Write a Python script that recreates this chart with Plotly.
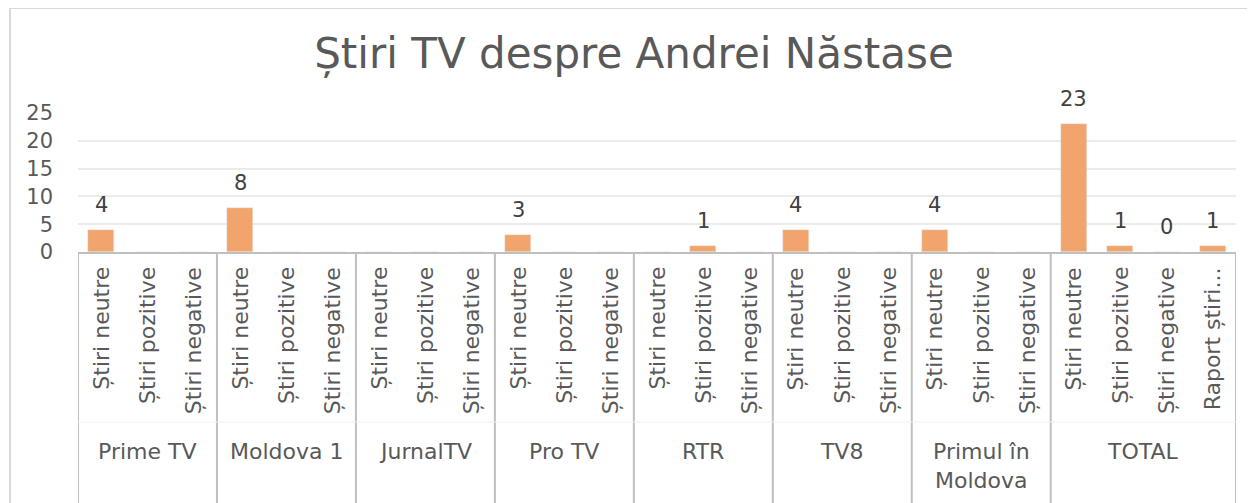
import plotly.graph_objects as go

# ---- data ----
groups = ["Prime TV", "Moldova 1", "JurnalTV", "Pro TV", "RTR", "TV8", "Primul în<br>Moldova", "TOTAL"]
subcats = [
    ["Știri neutre", "Știri pozitive", "Știri negative"],
    ["Știri neutre", "Știri pozitive", "Știri negative"],
    ["Știri neutre", "Știri pozitive", "Știri negative"],
    ["Știri neutre", "Știri pozitive", "Știri negative"],
    ["Știri neutre", "Știri pozitive", "Știri negative"],
    ["Știri neutre", "Știri pozitive", "Știri negative"],
    ["Știri neutre", "Știri pozitive", "Știri negative"],
    ["Știri neutre", "Știri pozitive", "Știri negative", "Raport știri..."],
]
values = [
    [4, None, None],
    [8, None, None],
    [None, None, None],
    [3, None, None],
    [None, 1, None],
    [4, None, None],
    [4, None, None],
    [23, 1, 0, 1],
]
title = "Știri TV despre Andrei Năstase"
y_ticks = [0, 5, 10, 15, 20, 25]

# ---- layout geometry (pixels, in screenshot coords; page body adds 8px offset) ----
OFF = 8
W, H = 1255, 503
L, R, T, B = 78 - OFF, 1236 - OFF, 113 - OFF, 252 - OFF
pw, ph = R - L, B - T
def px_x(p): return (p - OFF - L) / pw
def px_y(p): return (B - (p - OFF)) / ph

FONT = "Century Gothic, DejaVu Sans"
TXT = "#595959"
BAR = "#F1A46C"
AX = "#BFBFBF"

xs, ys, labels = [], [], []
i = 0
bounds = [-0.5]
for g, (subs, vals) in enumerate(zip(subcats, values)):
    for s, v in zip(subs, vals):
        xs.append(i); ys.append(v); labels.append(s)
        i += 1
    bounds.append(i - 0.5)
n = i

fig = go.Figure()
fig.add_trace(go.Bar(x=xs, y=[0 if v is None else v for v in ys], marker_color=BAR,
                     width=0.56, hoverinfo="skip"))

ann = []
# data labels
for x, v in zip(xs, ys):
    if v is not None:
        ann.append(dict(x=x, y=v, xref="x", yref="y", text=str(v), showarrow=False,
                        yanchor="middle", yshift=25, font=dict(family=FONT, size=21, color="#404040")))
# subcategory labels (rotated)
for x, s in zip(xs, labels):
    ann.append(dict(x=x, y=px_y(265), xref="x", yref="paper", text=s, showarrow=False,
                    textangle=-90, yanchor="top", xanchor="center",
                    font=dict(family=FONT, size=22, color=TXT)))
# group labels
for g, name in enumerate(groups):
    cx = (bounds[g] + bounds[g + 1]) / 2
    ann.append(dict(x=cx, y=px_y(437), xref="x", yref="paper", text=name, showarrow=False,
                    yanchor="top", xanchor="center",
                    font=dict(family=FONT, size=22, color=TXT)))

shapes = []
for b in bounds:
    shapes.append(dict(type="line", xref="x", yref="paper", x0=b, x1=b, y0=0, y1=px_y(520),
                       line=dict(color=AX, width=2)))
# faint row separator
shapes.append(dict(type="line", xref="paper", yref="paper", x0=0, x1=1, y0=px_y(422), y1=px_y(422),
                   line=dict(color="#F2F2F2", width=1)))
# outer chart border
shapes.append(dict(type="rect", xref="paper", yref="paper", x0=px_x(10), x1=px_x(1275),
                   y0=px_y(530), y1=px_y(8), line=dict(color="#D9D9D9", width=2)))

fig.update_layout(
    width=W, height=H,
    margin=dict(l=L, r=W - R, t=T, b=H - B),
    paper_bgcolor="white", plot_bgcolor="white",
    showlegend=False,
    title=dict(text=title, x=(634 - OFF) / W, xanchor="center", y=1 - (53 - OFF) / H, yanchor="middle",
               xref="container", yref="container",
               font=dict(family=FONT, size=42, color=TXT)),
    xaxis=dict(range=[-0.5, n - 0.5], showticklabels=False, ticks="", showgrid=False,
               zeroline=False, showline=True, linecolor=AX, linewidth=2, fixedrange=True),
    yaxis=dict(range=[0, 25], tickvals=y_ticks, showgrid=True, gridcolor="#EBEBEB", gridwidth=1.5,
               zeroline=False, showline=False, ticks="", ticklabelstandoff=24,
               tickfont=dict(family=FONT, size=21, color=TXT), fixedrange=True),
    annotations=ann, shapes=shapes, bargap=0,
)
fig.write_html("out.html")
